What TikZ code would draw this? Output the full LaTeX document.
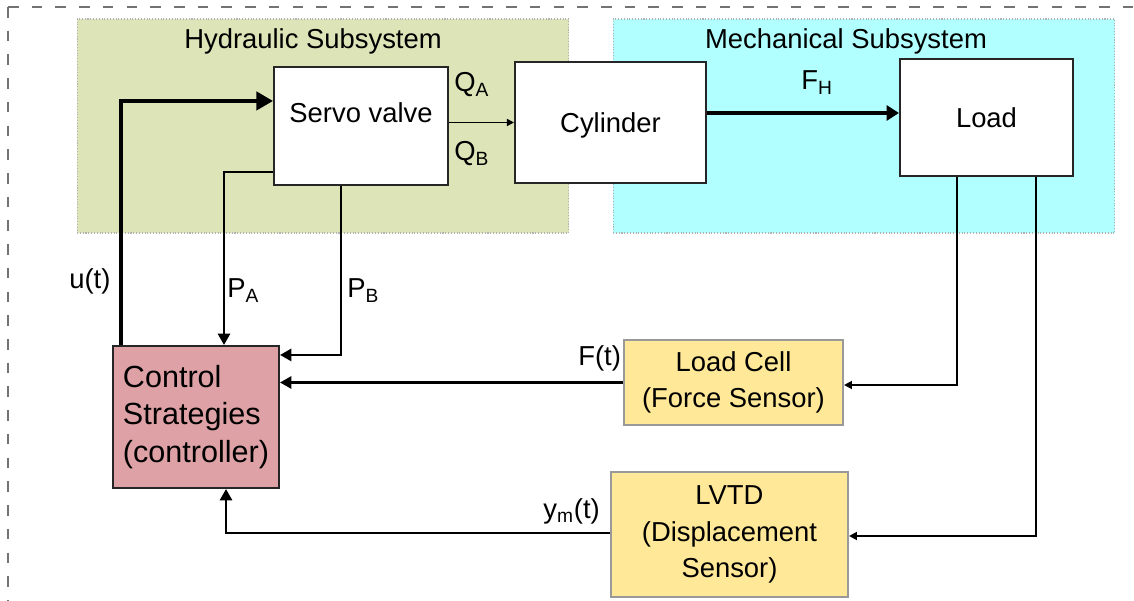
\documentclass[tikz,border=0pt]{standalone}
\usepackage{fontspec}
\setmainfont{Liberation Sans}
\usetikzlibrary{arrows.meta,calc}

\definecolor{hydgreen}{HTML}{DCE4B8}
\definecolor{mechcyan}{HTML}{B2FFFF}
\definecolor{ctrlpink}{HTML}{DDA1A6}
\definecolor{sensyellow}{HTML}{FFE898}

\tikzset{
  region/.style={draw=black!30, densely dotted, line width=0.6pt, inner sep=0pt},
  block/.style={draw=black!85, line width=1.2pt, fill=white, inner sep=0pt,
    text height=0.4cm, text depth=0pt},
  sensor/.style={draw=black!40, line width=1.2pt, fill=sensyellow, inner sep=0pt, align=center},
  ctrlsig/.style={line width=1.9pt, -{Triangle[length=9.5pt,width=10.5pt]}},
  forcesig/.style={line width=1.9pt, -{Triangle[length=7pt,width=8.5pt]}},
  fbsig/.style={line width=1.3pt, -{Triangle[length=6.5pt,width=7pt]}},
  meassig/.style={line width=1.1pt, -{Triangle[length=4.5pt,width=4.5pt]}},
  flowsig/.style={line width=0.9pt, -{Triangle[length=4pt,width=4pt]}}
}

\begin{document}
\begin{tikzpicture}[x=0.02cm, y=-0.02cm, font=\fontsize{15.6}{20.7}\selectfont]
    \useasboundingbox (0,0) rectangle (1134,601);
    \clip (0,0) rectangle (1134,601);
    % outer frame
    \draw[black!55, line width=0.85pt, dash pattern=on 6pt off 7.5pt] (8,7) -- (1200,7);
    \draw[black!55, line width=0.85pt, dash pattern=on 6pt off 7.5pt] (8,7) -- (8,700);

    % subsystems
    \node[region, fill=hydgreen, minimum width=9.84cm, minimum height=4.28cm] (hyd) at (323,126) {};
    \node[region, fill=mechcyan, minimum width=10.04cm, minimum height=4.28cm] (mech) at (864,126) {};
    \node (hydlabel) at (313,41) {Hydraulic Subsystem};
    \node (mechlabel) at (846,41) {Mechanical Subsystem};

    % blocks
    \node[block, minimum width=3.48cm, minimum height=2.36cm, text depth=0.52cm] (servo) at (361,126) {Servo valve};
    \node[block, minimum width=3.82cm, minimum height=2.42cm] (cyl) at (610.5,122.5) {Cylinder};
    \node[block, minimum width=3.46cm, minimum height=2.34cm] (load) at (986.5,117.5) {Load};
    \node[draw=black!85, line width=1.2pt, fill=ctrlpink, inner sep=0pt, align=left,
          minimum width=3.32cm, minimum height=2.84cm, font=\fontsize{17.4}{21.5}\selectfont]
          (ctrl) at (196,417) {Control\\Strategies\\(controller)};
    \node[sensor, minimum width=4.38cm, minimum height=1.70cm] (cell) at (733.5,382.5) {Load Cell\\(Force Sensor)};
    \node[sensor, minimum width=4.74cm, minimum height=2.50cm] (lvdt) at (729.5,534.5) {LVTD\\(Displacement\\Sensor)};

    % connectors
    \draw[ctrlsig] ($(ctrl.north west)+(9,0)$) |- ($(servo.north west)+(0,35)$);
    \draw[fbsig] ($(servo.south west)+(0,-14)$) -| ($(ctrl.north)+(28,0)$);
    \draw[fbsig] ($(servo.south west)+(68,0)$) |- ($(ctrl.north east)+(0,10)$);
    \draw[flowsig] (servo.east |- cyl.west) -- (cyl.west);
    \draw[forcesig] (cyl.east |- 0,113) -- (load.west |- 0,113);
    \draw[meassig] ($(load.south west)+(58,0)$) |- ($(cell.east)+(0,2.5)$);
    \draw[meassig] ($(load.south west)+(137,0)$) |- ($(lvdt.east)+(0,1.5)$);
    \draw[fbsig] (cell.west) -- (cell.west -| ctrl.east);
    \draw[fbsig] ($(lvdt.west)+(0,-1.5)$) -| ($(ctrl.south)+(30,0)$);

    % signal labels
    \node[anchor=base west, inner sep=0pt] (qa) at (454,92) {Q\textsubscript{A}};
    \node[anchor=base west, inner sep=0pt] (qb) at (454,161) {Q\textsubscript{B}};
    \node[anchor=base west, inner sep=0pt] (fh) at (801,90) {F\textsubscript{H}};
    \node[anchor=base west, inner sep=0pt] (u) at (69,289) {u(t)};
    \node[anchor=base west, inner sep=0pt] (pa) at (227,298) {P\textsubscript{A}};
    \node[anchor=base west, inner sep=0pt] (pb) at (347,298) {P\textsubscript{B}};
    \node[anchor=base west, inner sep=0pt] (ft) at (578,366) {F(t)};
    \node[anchor=base west, inner sep=0pt] (ym) at (543,519) {y\textsubscript{m}(t)};
\end{tikzpicture}
\end{document}
